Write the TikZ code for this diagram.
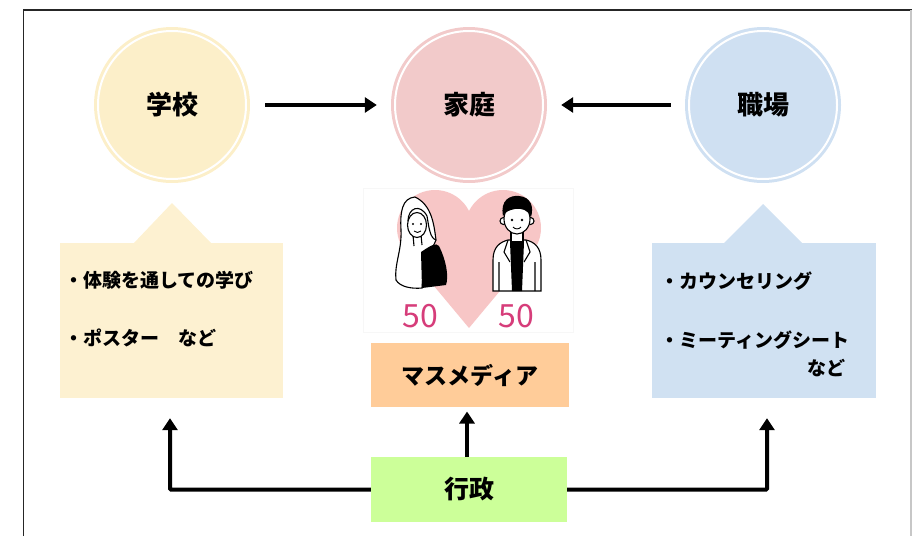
\documentclass[tikz,border=0pt]{standalone}
\usepackage{fontspec}
\setmainfont{Noto Sans CJK JP}
\usetikzlibrary{arrows.meta}

\definecolor{ycirc}{HTML}{FCEFC9}
\definecolor{pcirc}{HTML}{F2CACA}
\definecolor{bcirc}{HTML}{CFE0F2}
\definecolor{ybox}{HTML}{FDF1D1}
\definecolor{bbox}{HTML}{D0E1F2}
\definecolor{heartc}{HTML}{F7C6C6}
\definecolor{mediac}{HTML}{FFCC99}
\definecolor{govc}{HTML}{CCFF99}
\definecolor{fiftyc}{HTML}{D63D7A}

\tikzset{
  hub/.style={circle, minimum size=156pt, inner sep=0pt,
              font=\fontsize{26}{30}\selectfont\bfseries},
  ring/.style={white, line width=2pt},
  flow/.style={line width=4pt, -{Triangle[length=12pt,width=15pt]}},
  listtext/.style={anchor=west, inner sep=0pt, font=\fontsize{19}{22}\selectfont\bfseries},
  labelbox/.style={rectangle, inner sep=0pt, font=\fontsize{23}{27}\selectfont\bfseries},
  ink/.style={draw=black, line width=1.1pt, fill=white},
}

\begin{document}
\begin{tikzpicture}[x=1pt,y=-1pt]
\useasboundingbox (0,0) rectangle (912,536);

% frame
\draw[black!85, line width=1.3pt] (23.5,536) -- (23.5,10) -- (912,10);
\draw[black!22, line width=1.5pt] (911,10) -- (911,536);

% the three hubs
\node[hub, fill=ycirc] (school) at (172,105) {学校};
\node[hub, fill=pcirc] (home)   at (469,105) {家庭};
\node[hub, fill=bcirc] (work)   at (763,105) {職場};
\foreach \c in {school,home,work}
  \draw[ring] (\c.center) circle[radius=74];

\draw[flow, shorten <=15pt, shorten >=14pt] (school.east) -- (home.west);
\draw[flow, shorten <=14pt, shorten >=14pt] (work.west) -- (home.east);

% school callout
\fill[ybox] (133,244) -- (172,203) -- (212,244) -- cycle;
\node[rectangle, fill=ybox, minimum width=223pt, minimum height=155pt, inner sep=0pt]
  (schoolbox) at (171.5,320.5) {};
\node[listtext] (s1) at (64,280) {・体験を通しての学び};
\node[listtext] (s2) at (64,338) {・ポスター　など};

% workplace callout
\fill[bbox] (723,244) -- (763,204) -- (803,244) -- cycle;
\node[rectangle, fill=bbox, minimum width=224pt, minimum height=155pt, inner sep=0pt]
  (workbox) at (764,320.5) {};
\node[listtext] (w1) at (660,281) {・カウンセリング};
\node[listtext] (w2) at (660,340) {・ミーティングシート};
\node[listtext, anchor=east] (w3) at (846,368) {など};

% heart panel
\draw[black!3, line width=0.8pt] (363,188) rectangle (573,332);
\fill[heartc] (435,228) circle[radius=38];
\fill[heartc] (503,228) circle[radius=38];
\fill[heartc] (469,328) -- (405.9,252.4) -- (435,228) -- (503,228) -- (532.1,252.4) -- cycle;

% woman: long hair, dark top
\path[ink] (415,197) .. controls (402,198) and (400,212) .. (401,230)
  .. controls (402,250) and (394,265) .. (396,280)
  .. controls (400,287) and (412,289) .. (422,288)
  -- (424,260) .. controls (430,250) and (434,246) .. (436,240)
  .. controls (434,225) and (432,205) .. (415,197) -- cycle;
\fill[black] (421,252) .. controls (430,246) and (436,242) .. (439,246)
  .. controls (446,260) and (449,276) .. (446,285) -- (422,288) -- cycle;
\draw[black, line width=1.1pt] (413,235) -- (414,246) (421,235) -- (422,245);
\path[ink] (417,225) ellipse[x radius=9.5, y radius=12.5];
\draw[black, line width=1.1pt] (408,221) .. controls (408,208) and (420,203) .. (427,216)
  .. controls (429,228) and (430,238) .. (436,240);
\fill[black] (413,224) circle[radius=1.2] (421,224) circle[radius=1.2];
\draw[black, line width=0.9pt] (414,231) .. controls (416,233) and (419,233) .. (421,231);

% man: short dark hair, open jacket
\path[ink] (493,291) -- (493,260) .. controls (493,247) and (500,242) .. (508,240)
  -- (526,240) .. controls (535,242) and (541,248) .. (541,260) -- (541,291) -- cycle;
\fill[black] (510,242) -- (524,242) -- (522,291) -- (512,291) -- cycle;
\draw[black, line width=1.1pt] (508,240) -- (504,252) -- (510,262)
  (526,240) -- (530,252) -- (524,262) (499,262) -- (499,291) (535,262) -- (535,291);
\path[ink] (511,228) rectangle (523,242);
\path[ink] (503.5,221) circle[radius=3.5] (530.5,221) circle[radius=3.5];
\path[ink] (517,219) ellipse[x radius=13, y radius=15];
\fill[black] (503,216) .. controls (500,200) and (510,195) .. (519,196)
  .. controls (531,197) and (534,207) .. (531,217)
  .. controls (528,210) and (522,208) .. (515,209)
  .. controls (509,210) and (505,212) .. (503,216) -- cycle;
\fill[black] (512,220) circle[radius=1.3] (522,220) circle[radius=1.3];
\draw[black, line width=0.9pt] (513,227) .. controls (515,229.5) and (519,229.5) .. (521,227);

\node[text=fiftyc, font=\fontsize{32}{36}\selectfont] (fiftyL) at (420,316) {50};
\node[text=fiftyc, font=\fontsize{32}{36}\selectfont] (fiftyR) at (516,316) {50};

% media and government
\node[labelbox, fill=mediac, minimum width=198pt, minimum height=64pt] (media) at (470,375) {マスメディア};
\node[labelbox, fill=govc, minimum width=196pt, minimum height=65pt,
      font=\fontsize{25}{29}\selectfont\bfseries] (gov) at (469,489.5) {行政};

\draw[flow, shorten >=3pt] (467,457) -- (467,408.5);
\draw[line width=4pt, -{Triangle[length=12pt,width=15pt]}, rounded corners=1pt, shorten >=20pt]
  (gov.west) -| (schoolbox.south -| 170,0);
\draw[line width=4pt, -{Triangle[length=12pt,width=15pt]}, rounded corners=1pt, shorten >=20pt]
  (gov.east) -| (workbox.south -| 767,0);
\end{tikzpicture}
\end{document}
